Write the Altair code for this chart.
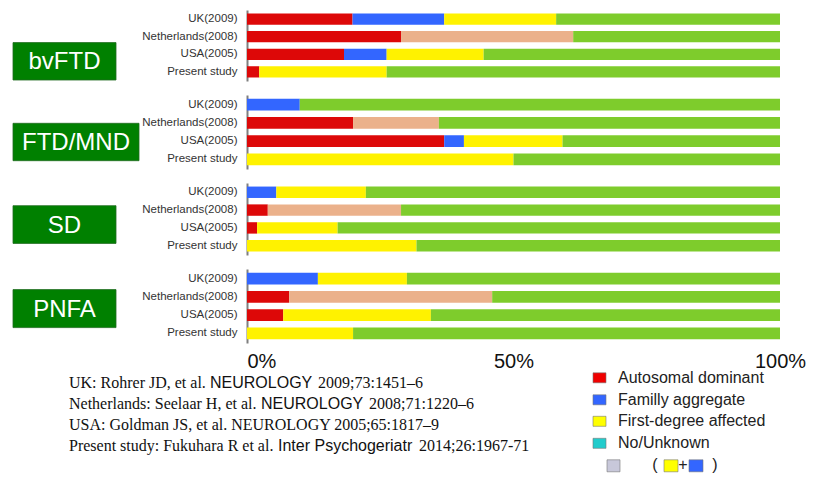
import altair as alt
import pandas as pd

studies = ["UK(2009)", "Netherlands(2008)", "USA(2005)", "Present study"]
groups = ["bvFTD", "FTD/MND", "SD", "PNFA"]
categories = ["Autosomal dominant", "Familly aggregate", "First-degree affected",
              "Combined", "No/Unknown"]
bar_colors = ["#DD0808", "#3366FF", "#FFF200", "#EBB18B", "#7ECC2C"]

# percentages per group, in study order
autosomal = {"bvFTD": [19.8, 28.9, 18.2, 2.3], "FTD/MND": [0, 19.9, 37.0, 0],
             "SD": [0, 3.9, 1.9, 0], "PNFA": [0, 7.9, 6.8, 0]}
familial = {"bvFTD": [17.2, 0, 8.0, 0], "FTD/MND": [9.9, 0, 3.7, 0],
            "SD": [5.5, 0, 0, 0], "PNFA": [13.3, 0, 0, 0]}
first_degree = {"bvFTD": [21.0, 0, 18.2, 23.9], "FTD/MND": [0, 0, 18.5, 50.0],
                "SD": [16.8, 0, 15.1, 31.8], "PNFA": [16.7, 0, 27.7, 19.9]}
combined = {"bvFTD": [0, 32.3, 0, 0], "FTD/MND": [0, 16.1, 0, 0],
            "SD": [0, 25.0, 0, 0], "PNFA": [0, 38.1, 0, 0]}
unknown = {"bvFTD": [42.0, 38.8, 55.6, 73.8], "FTD/MND": [90.1, 64.0, 40.8, 50.0],
           "SD": [77.7, 71.1, 83.0, 68.2], "PNFA": [70.0, 54.0, 65.5, 80.1]}
series = [autosomal, familial, first_degree, combined, unknown]

x_ticks = [0, 50, 100]

legend_labels = ["Autosomal dominant", "Familly aggregate", "First-degree affected", "No/Unknown"]
legend_colors = ["#F00000", "#3366FF", "#FFFF00", "#22CCCC"]

ref_lines = [
    [("UK: Rohrer JD, et al.", "serif"), ("NEUROLOGY", "sans"), ("2009;73:1451–6", "serif")],
    [("Netherlands: Seelaar H, et al.", "serif"), ("NEUROLOGY", "sans"), ("2008;71:1220–6", "serif")],
    [("USA: Goldman JS, et al. NEUROLOGY 2005;65:1817–9", "serif")],
    [("Present study: Fukuhara R et al.", "serif"), ("Inter Psychogeriatr", "sans"), ("2014;26:1967-71", "serif")],
]

# ---- layout constants (pixels) ----
W = 533
heights = [71, 74, 72, 74]
box_specs = [(-234, -131, 32.6, 70.0), (-234, -108, 28.3, 65.7),
             (-234, -131, 22.7, 60.4), (-234, -131, 20.6, 58.6)]
X0, Y0 = 246, 270.7  # origin of last panel in page coordinates
ref_x = [[68, 209, 317], [68, 260, 368], [68], [68, 277, 418]]
ref_y = [385, 406, 427, 448]
leg_y = [379.5, 401.5, 423, 445]

SANS = "Liberation Sans"
SERIF = "Liberation Serif"


def panel(gi, g, last):
    rows = []
    for k, (cat, ser) in enumerate(zip(categories, series)):
        for s, v in zip(studies, ser[g]):
            if v > 0:
                rows.append({"study": s, "cat": cat, "k": k, "v": v})
    df = pd.DataFrame(rows)
    if last:
        xaxis = alt.Axis(values=x_ticks, labelExpr="datum.value + '%'", domain=False,
                         ticks=False, grid=False, labelFont=SANS, labelFontSize=20,
                         labelColor="#111111", labelPadding=8, title=None,
                         labelFlush=False,
                         labelAlign={"condition": {"test": "datum.value == 0", "value": "left"},
                                     "value": "center"})
    else:
        xaxis = None
    bars = alt.Chart(df).mark_bar().encode(
        x=alt.X("v:Q", stack="zero", scale=alt.Scale(domain=[0, 100], nice=False), axis=xaxis),
        y=alt.Y("study:N", sort=studies,
                scale=alt.Scale(paddingInner=0.36, paddingOuter=0.2),
                axis=alt.Axis(title=None, ticks=False, domainColor="#7f7f7f", domainWidth=2,
                              labelFont=SANS, labelFontSize=11.5, labelColor="#333333",
                              labelPadding=10, grid=False)),
        color=alt.Color("cat:N", scale=alt.Scale(domain=categories, range=bar_colors), legend=None),
        order=alt.Order("k:Q"),
    )
    x1, x2, y1, y2 = box_specs[gi]
    lab = alt.Data(values=[{"g": g}])
    box = alt.Chart(lab).mark_rect(color="#008000", stroke="#1f6b1f", strokeWidth=0.8).encode(
        x=alt.value(x1), x2=alt.value(x2), y=alt.value(y1), y2=alt.value(y2))
    txt = alt.Chart(lab).mark_text(font=SANS, fontSize=24, color="white",
                                   align="center", baseline="middle").encode(
        x=alt.value((x1 + x2) / 2), y=alt.value((y1 + y2) / 2 + 1), text="g:N")
    layers = [bars, box, txt]
    if last:
        # legend
        for i, (lbl, col) in enumerate(zip(legend_labels, legend_colors)):
            d = alt.Data(values=[{"t": lbl}])
            cy = leg_y[i] - Y0
            layers.append(alt.Chart(d).mark_rect(color=col, stroke="#777777", strokeWidth=0.6).encode(
                x=alt.value(592 - X0), x2=alt.value(605 - X0),
                y=alt.value(cy - 5), y2=alt.value(cy + 5)))
            layers.append(alt.Chart(d).mark_text(font=SANS, fontSize=16, color="#222222",
                                                 align="left", baseline="middle").encode(
                x=alt.value(617 - X0), y=alt.value(cy), text="t:N"))
        cy = 467.5 - Y0
        sq = [(606, 619, "#C8C8DA"), (663, 677, "#FFFF00"), (688, 702, "#3366FF")]
        for a, b, col in sq:
            layers.append(alt.Chart(alt.Data(values=[{"t": ""}])).mark_rect(
                color=col, stroke="#777777", strokeWidth=0.6).encode(
                x=alt.value(a - X0), x2=alt.value(b - X0),
                y=alt.value(cy - 6), y2=alt.value(cy + 6)))
        for px, ch in [(654, "("), (682, "+"), (714, ")")]:
            layers.append(alt.Chart(alt.Data(values=[{"t": ch}])).mark_text(
                font=SANS, fontSize=16, color="#222222", align="center", baseline="middle").encode(
                x=alt.value(px - X0), y=alt.value(cy - 1), text="t:N"))
        # references
        for li, segs in enumerate(ref_lines):
            for si, (s, kind) in enumerate(segs):
                layers.append(alt.Chart(alt.Data(values=[{"t": s}])).mark_text(
                    font=SERIF if kind == "serif" else SANS, fontSize=16, color="#111111",
                    align="left", baseline="middle").encode(
                    x=alt.value(ref_x[li][si] - X0), y=alt.value(ref_y[li] - Y0), text="t:N"))
    return alt.layer(*layers).properties(width=W, height=heights[gi])


panels = [panel(i, g, i == len(groups) - 1) for i, g in enumerate(groups)]
chart = alt.vconcat(*panels, spacing=14).properties(
    padding={"left": 4, "top": 2, "right": 2, "bottom": 2}
).configure_view(stroke=None).configure_concat(spacing=14)

chart.save("out.html", embed_options={"renderer": "svg", "actions": False})
